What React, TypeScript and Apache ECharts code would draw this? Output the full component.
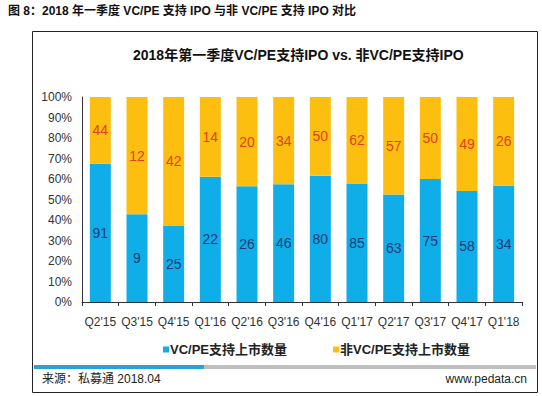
import React, { useEffect, useRef } from "react";
import * as echarts from "echarts";

const categories = ["Q2'15", "Q3'15", "Q4'15", "Q1'16", "Q2'16", "Q3'16", "Q4'16", "Q1'17", "Q2'17", "Q3'17", "Q4'17", "Q1'18"];
const vcpeCounts = [91, 9, 25, 22, 26, 46, 80, 85, 63, 75, 58, 34];
const nonVcpeCounts = [44, 12, 42, 14, 20, 34, 50, 62, 57, 50, 49, 26];
const yTicks = [0, 0.1, 0.2, 0.3, 0.4, 0.5, 0.6, 0.7, 0.8, 0.9, 1];
const seriesNames = ["VC/PE支持上市数量", "非VC/PE支持上市数量"];

const CJK = "'Liberation Sans', 'Noto Sans CJK SC', sans-serif";

export default function App() {
  const ref = useRef<HTMLDivElement>(null);
  useEffect(() => {
    if (!ref.current) return;
    const chart = echarts.init(ref.current, null, { renderer: "svg" });
    const totals = vcpeCounts.map((v, i) => v + nonVcpeCounts[i]);
    const vcShare = vcpeCounts.map((v, i) => v / totals[i]);
    const nonShare = nonVcpeCounts.map((v, i) => v / totals[i]);
    chart.setOption({
      animation: false,
      backgroundColor: "#ffffff",
      grid: { left: 82, right: 20, top: 97, bottom: 94, containLabel: false },
      legend: {
        data: seriesNames,
        top: 338,
        left: 158,
        itemWidth: 6,
        itemHeight: 6,
        itemGap: 46,
        icon: "rect",
        textStyle: { fontSize: 13, fontWeight: "bold", color: "#222", fontFamily: CJK, padding: [0, 0, 0, -4] },
      },
      xAxis: {
        type: "category",
        data: categories,
        axisLine: { show: true, lineStyle: { color: "#333", width: 1 } },
        axisTick: { show: true, length: 4, lineStyle: { color: "#333" } },
        axisLabel: { interval: 0, fontSize: 12, color: "#333", fontFamily: "'Liberation Sans', sans-serif", margin: 14 },
      },
      yAxis: {
        type: "value",
        min: 0,
        max: 1,
        interval: 0.1,
        splitLine: { show: false },
        axisLine: { show: true, lineStyle: { color: "#333", width: 1 } },
        axisTick: { show: false },
        axisLabel: {
          fontSize: 12,
          color: "#333",
          fontFamily: "'Liberation Sans', sans-serif",
          margin: 10,
          formatter: (v: number) => (yTicks.some((t) => Math.abs(t - v) < 1e-6) ? Math.round(v * 100) + "%" : ""),
        },
      },
      series: [
        {
          name: seriesNames[0],
          type: "bar",
          stack: "all",
          barWidth: 21,
          data: vcShare,
          itemStyle: { color: "#0FAEE9" },
          label: {
            show: true,
            position: "inside",
            fontSize: 14,
            color: "#1F3A78",
            fontFamily: "'Liberation Sans', sans-serif",
            formatter: (p: any) => String(vcpeCounts[p.dataIndex]),
          },
        },
        {
          name: seriesNames[1],
          type: "bar",
          stack: "all",
          barWidth: 21,
          data: nonShare,
          itemStyle: { color: "#FDBF0F" },
          label: {
            show: true,
            position: "inside",
            fontSize: 14,
            color: "#E0401E",
            fontFamily: "'Liberation Sans', sans-serif",
            formatter: (p: any) => String(nonVcpeCounts[p.dataIndex]),
          },
        },
      ],
      graphic: [
        {
          type: "text",
          left: 8,
          top: 5,
          style: {
            text: "图 8：2018 年一季度 VC/PE 支持 IPO 与非 VC/PE 支持 IPO 对比",
            fontSize: 12,
            fontWeight: "bold",
            fill: "#111",
            fontFamily: CJK,
          },
        },
        {
          type: "rect",
          shape: { x: 32.5, y: 31.5, width: 505, height: 361 },
          style: { fill: "none", stroke: "#222", lineWidth: 1 },
          silent: true,
        },
        {
          type: "text",
          left: 133,
          top: 48,
          style: {
            text: "2018年第一季度VC/PE支持IPO vs. 非VC/PE支持IPO",
            fontSize: 14,
            fontWeight: "bold",
            fill: "#111",
            fontFamily: CJK,
          },
        },
        {
          type: "rect",
          shape: { x: 34, y: 365, width: 502, height: 4 },
          style: { fill: "#BFBFBF" },
          silent: true,
        },
        {
          type: "rect",
          shape: { x: 34, y: 365, width: 170, height: 4 },
          style: { fill: "#27A3D8" },
          silent: true,
        },
        {
          type: "text",
          left: 42,
          top: 373,
          style: { text: "来源：私募通 2018.04", fontSize: 12, fill: "#222", fontFamily: CJK },
        },
        {
          type: "text",
          right: 15,
          top: 373,
          style: { text: "www.pedata.cn", fontSize: 12, fill: "#222", fontFamily: "'Liberation Sans', sans-serif" },
        },
      ],
    });
    return () => chart.dispose();
  }, []);
  return <div ref={ref} style={{ position: "fixed", left: 0, top: 0, width: 542, height: 396 }} />;
}
